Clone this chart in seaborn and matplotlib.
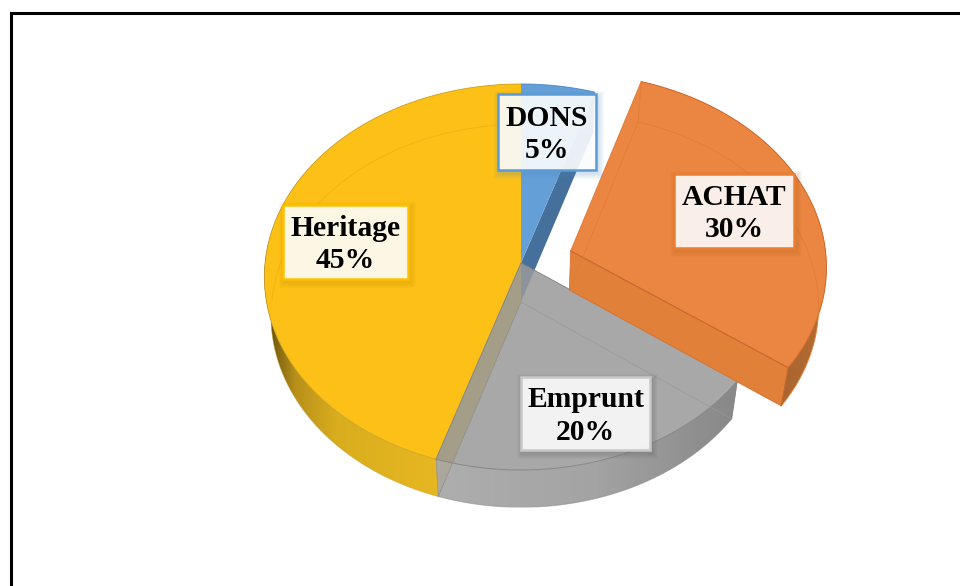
import numpy as np
import matplotlib
matplotlib.use("Agg")
import matplotlib.pyplot as plt
from matplotlib.colors import to_rgb
from matplotlib.patches import Polygon, Rectangle
import seaborn as sns

# ---- data
categories = ["DONS", "ACHAT", "Emprunt", "Heritage"]
shares = [5, 30, 20, 45]
explode = [0, 0.205, 0, 0]

# ---- style
sns.set_theme(style="white")
plt.rcParams["font.family"] = ["Liberation Serif", "DejaVu Serif"]
top_colors = sns.color_palette(["#659fd8", "#ea8641", "#9a9a9a", "#fcc017"])
EDGE = {"DONS": "#4f8cc6", "ACHAT": "#d0692c", "Emprunt": "#858585", "Heritage": "#c29a20"}
BORDER = {"DONS": "#5b9bd5", "ACHAT": "#ed7d31", "Emprunt": "#c8c8c8", "Heritage": "#ffc000"}
SHADOW = {"DONS": "#4f8cc6", "ACHAT": "#b05a20", "Emprunt": "#555555", "Heritage": "#b88a00"}
LABEL_BOX = {"DONS": (498, 94, 596, 170), "ACHAT": (674, 174, 794, 248),
             "Emprunt": (521, 377, 650, 450), "Heritage": (283, 205, 408, 279)}

fig, ax = plt.subplots(figsize=(9.6, 5.86), dpi=100)
ax.set_position([0, 0, 1, 1])
ax.axis("off")

# ---- perspective of the pie plane
CX, CY, BX, BY, K = 521, 263, 256, 192, 0.0725
LOW_SX, LOW_SY, DEPTH = 0.974, 0.992, 39.0


def proj(theta_deg, r=1.0, off=(0.0, 0.0), lower=False):
    t = np.radians(np.asarray(theta_deg, dtype=float))
    u = r * np.sin(t) + off[0]
    v = r * np.cos(t) + off[1]
    den = 1 + K * v
    x = BX * u / den
    y = -BY * v / den
    if lower:
        x, y = x * LOW_SX, y * LOW_SY + DEPTH
    return x + CX, y + CY


edges = np.concatenate([[0], np.cumsum(shares)]) * 3.6
span = {c: (edges[i], edges[i + 1]) for i, c in enumerate(categories)}
offs = {}
for i, c in enumerate(categories):
    mid = np.radians((edges[i] + edges[i + 1]) / 2)
    offs[c] = (explode[i] * np.sin(mid), explode[i] * np.cos(mid))
col = dict(zip(categories, top_colors))


def top_xy(c, lower=False):
    a, b = span[c]
    th = np.linspace(a, b, 160)
    x, y = proj(th, off=offs[c], lower=lower)
    ax0, ay0 = proj(0, r=0, off=offs[c], lower=lower)
    return np.r_[ax0, x], np.r_[ay0, y]


def cut_face(c, angle, color, alpha=1.0, z=1):
    x1, y1 = proj(0, r=0, off=offs[c])
    x2, y2 = proj(angle, off=offs[c])
    x3, y3 = proj(angle, off=offs[c], lower=True)
    x4, y4 = proj(0, r=0, off=offs[c], lower=True)
    ax.fill([x1, x2, x3, x4], [y1, y2, y3, y4], color=color, alpha=alpha, lw=0, zorder=z)


def wall(c, stops, alpha=1.0, z=1):
    a, b = span[c]
    th = np.linspace(a, b, 260)
    xt, yt = proj(th, off=offs[c])
    xb, yb = proj(th, off=offs[c], lower=True)
    poly = np.column_stack([np.r_[xt, xb[::-1]], np.r_[yt, yb[::-1]]])
    x0, x1 = poly[:, 0].min(), poly[:, 0].max()
    y0, y1 = poly[:, 1].min(), poly[:, 1].max()
    xs = np.linspace(x0, x1, 500)
    us = (xs - CX) / BX - offs[c][0]
    su, sc = zip(*stops)
    sc = np.array([to_rgb(s) for s in sc])
    rgb = np.column_stack([np.interp(us, su, sc[:, i]) for i in range(3)])[None, :, :]
    patch = Polygon(poly, closed=True, transform=ax.transData, fc="none", ec="none")
    ax.add_patch(patch)
    im = ax.imshow(rgb, extent=(x0, x1, y1, y0), aspect="auto", alpha=alpha, zorder=z,
                   interpolation="bilinear")
    im.set_clip_path(patch)
    ax.plot(xb, yb, color=EDGE[c], lw=0.6, alpha=0.5, zorder=z + 0.1)


# frame of the picture
ax.plot([10.5, 10.5, 960], [586, 12.5, 12.5], color="black", lw=2.2, zorder=0.5,
        solid_joinstyle="miter")

# --- DONS cut face
cut_face("DONS", span["DONS"][1], "#44709b", z=1)
x, y = top_xy("DONS")
ax.fill(x, y, color=col["DONS"], lw=0, zorder=2)
xa, ya = proj(np.linspace(*span["DONS"], 40))
ax.plot(xa, ya, color="#3f7fbd", lw=0.7, alpha=0.8, zorder=2.1)
lx, ly = top_xy("DONS", lower=True)
ax.plot(lx[1:], ly[1:], color="#5c95cd", lw=0.6, zorder=2.1)

# --- Heritage
wall("Heritage", [(-1.0, "#3a2c05"), (-0.96, "#7d6210"), (-0.88, "#b8901a"),
                  (-0.72, "#d9ad1e"), (-0.3, "#e8b822")], z=1.5)
cut_face("Heritage", span["Heritage"][0], "#e5b422", z=2.2)
x, y = top_xy("Heritage")
ax.fill(x, y, color=col["Heritage"], lw=0, zorder=2.5)
xa, ya = proj(np.linspace(*span["Heritage"], 200))
ax.plot(xa, ya, color=EDGE["Heritage"], lw=0.6, alpha=0.8, zorder=2.6)
lx, ly = top_xy("Heritage", lower=True)
keep = ly[1:] < 303
ax.plot(lx[1:][keep], ly[1:][keep], color="#efb515", lw=0.7, zorder=2.6)

# --- Emprunt (translucent)
wall("Emprunt", [(-0.31, "#a8a8a8"), (0.3, "#9c9c9c"), (0.81, "#808080")], alpha=0.93, z=3)
x, y = top_xy("Emprunt")
ax.fill(x, y, color=col["Emprunt"], alpha=0.86, lw=0, zorder=3.2)
ax.plot(np.r_[x, x[0]], np.r_[y, y[0]], color=EDGE["Emprunt"], lw=0.7, zorder=3.3)
lx, ly = top_xy("Emprunt", lower=True)
ax.plot(lx[:2], ly[:2], color="#989898", lw=0.5, zorder=3.3)
ax.plot([x[-1], lx[-1]], [y[-1], ly[-1]], color="#8e8e8a", lw=0.5, zorder=3.3)
ax.plot([x[1], lx[1]], [y[1], ly[1]], color="#808080", lw=0.6, zorder=3.3)
ax.plot([lx[0], lx[-1]], [ly[0], ly[-1]], color="#8f8f88", lw=0.5, zorder=3.3)

# --- ACHAT (exploded)
wall("ACHAT", [(0.3, "#a86430"), (0.8, "#a86430"), (0.95, "#b26a30"), (1.0, "#c4702e")], z=4)
cut_face("ACHAT", span["ACHAT"][1], "#e08039", z=4.2)
x, y = top_xy("ACHAT")
ax.fill(x, y, color=col["ACHAT"], lw=0, zorder=4.5)
ax.plot(x[1:], y[1:], color=EDGE["ACHAT"], lw=0.7, zorder=4.6)
ax.plot(x[:2], y[:2], color="#dd7a36", lw=0.6, zorder=4.6)
ax.plot([x[0], x[-1]], [y[0], y[-1]], color="#c8622a", lw=0.8, zorder=4.6)
lx, ly = top_xy("ACHAT", lower=True)
faint = "#e27c37"
ax.plot(lx[1:], ly[1:], color=faint, lw=0.6, zorder=4.6)
ax.plot([lx[0], lx[1]], [ly[0], ly[1]], color=faint, lw=0.6, zorder=4.6)
ax.plot([x[1], lx[1]], [y[1], ly[1]], color=faint, lw=0.6, zorder=4.6)
ax.plot([x[0], lx[0]], [y[0], ly[0]], color="#d87432", lw=0.6, zorder=4.6)
ax.plot([lx[0], lx[-1]], [ly[0], ly[-1]], color="#d87432", lw=0.7, zorder=4.6)
ax.plot([x[-1], lx[-1]], [y[-1], ly[-1]], color="#b8642c", lw=0.7, zorder=4.6)

# --- data labels
for c, s in zip(categories, shares):
    x0, y0, x1, y1 = LABEL_BOX[c]
    for g in range(6, 0, -1):
        ax.add_patch(Rectangle((x0 + 2 - g, y0 + 3 - g), x1 - x0 + 2 * g, y1 - y0 + 2 * g,
                               fc=SHADOW[c], ec="none", alpha=0.045, zorder=5))
    ax.add_patch(Rectangle((x0, y0), x1 - x0, y1 - y0, fc="white", alpha=0.89, ec="none", zorder=5.2))
    ax.add_patch(Rectangle((x0, y0), x1 - x0, y1 - y0, fc="none", ec=BORDER[c], lw=1.8, zorder=5.3))
    ax.text((x0 + x1) / 2, (y0 + y1) / 2 + 2.5, f"{c}\n{s}%", ha="center", va="center",
            fontsize=21.3, fontweight="bold", color="black", linespacing=1.28, zorder=6)

ax.set_xlim(0, 960)
ax.set_ylim(586, 0)
fig.savefig("out.png", dpi=100)
